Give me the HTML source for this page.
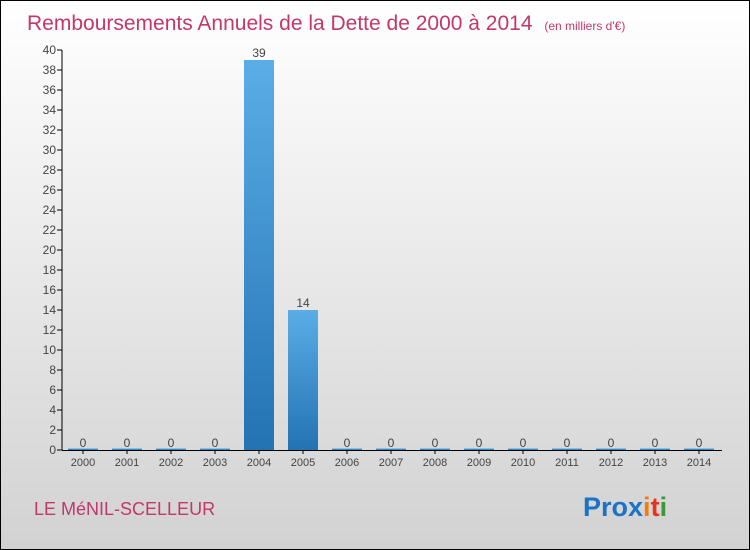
<!DOCTYPE html>
<html><head><meta charset="utf-8"><style>
body{margin:0}
#c{position:relative;width:748px;height:548px;border:1px solid #000;background:linear-gradient(#fff,#d2d2d2);font-family:"Liberation Sans",sans-serif;overflow:hidden}
</style></head><body>
<div id="c">
<svg width="748" height="548" style="position:absolute;left:0;top:0" id="svg">
<defs><linearGradient id="bg" x1="0" y1="0" x2="0" y2="1"><stop offset="0" stop-color="#5aade6"/><stop offset="1" stop-color="#2373b3"/></linearGradient></defs>
<text x="26" y="29" font-size="21" fill="#c2386a">Remboursements Annuels de la Dette de 2000 à 2014 <tspan font-size="12" dx="6">(en milliers d'€)</tspan></text>
<text x="33" y="514" font-size="18" fill="#c2386a">LE MéNIL-SCELLEUR</text>
<text x="582" y="515" font-size="27" font-weight="bold"><tspan fill="#1a73c7">Pro</tspan><tspan fill="#1a73c7">x</tspan><tspan fill="#f07d10">i</tspan><tspan fill="#e8321c">t</tspan><tspan fill="#3a9a3a">i</tspan></text>
<g id="plot"></g>
</svg>
</div>
<script>
const categories=["2000","2001","2002","2003","2004","2005","2006","2007","2008","2009","2010","2011","2012","2013","2014"];
const values=[0,0,0,0,39,14,0,0,0,0,0,0,0,0,0];
const yTicks=[0,2,4,6,8,10,12,14,16,18,20,22,24,26,28,30,32,34,36,38,40];
const NS="http://www.w3.org/2000/svg";
const g=document.getElementById("plot");
const x0=60,step=44,yBase=449,ppu=10,bw=30;
const xc=i=>x0+step*i+step/2;
const y=v=>yBase-v*ppu;
function el(t,a){const e=document.createElementNS(NS,t);for(const k in a)e.setAttribute(k,a[k]);g.appendChild(e);return e;}
yTicks.forEach(t=>{
  const l=el("line",{x1:56,x2:61,y1:y(t),y2:y(t),stroke:"#000"});
  
  
  const tx=el("text",{x:55,y:y(t)+4,"font-size":12,"text-anchor":"end",fill:"#444"});
  tx.textContent=t;
  
  
});
categories.forEach((c,i)=>{
  const v=values[i];
  const h=Math.max(v*ppu,1.5);
  const r=el("rect",{x:xc(i)-bw/2,y:yBase-h,width:bw,height:h,fill:"url(#bg)"});
  
  
  const vl=el("text",{x:xc(i),y:y(v)-3,"font-size":12,"text-anchor":"middle",fill:"#444"});
  vl.textContent=v;
  
  
  const tk=el("line",{x1:xc(i),x2:xc(i),y1:yBase,y2:yBase+4,stroke:"#000"});
  
  
  const xl=el("text",{x:xc(i),y:yBase+16,"font-size":11,"text-anchor":"middle",fill:"#444"});
  xl.textContent=c;
  
  
});
const ya=el("line",{x1:61,x2:61,y1:y(40),y2:yBase,stroke:"#000"});


const xa=el("line",{x1:61,x2:721,y1:yBase+0.5,y2:yBase+0.5,stroke:"#000"});


</script>
</body></html>
